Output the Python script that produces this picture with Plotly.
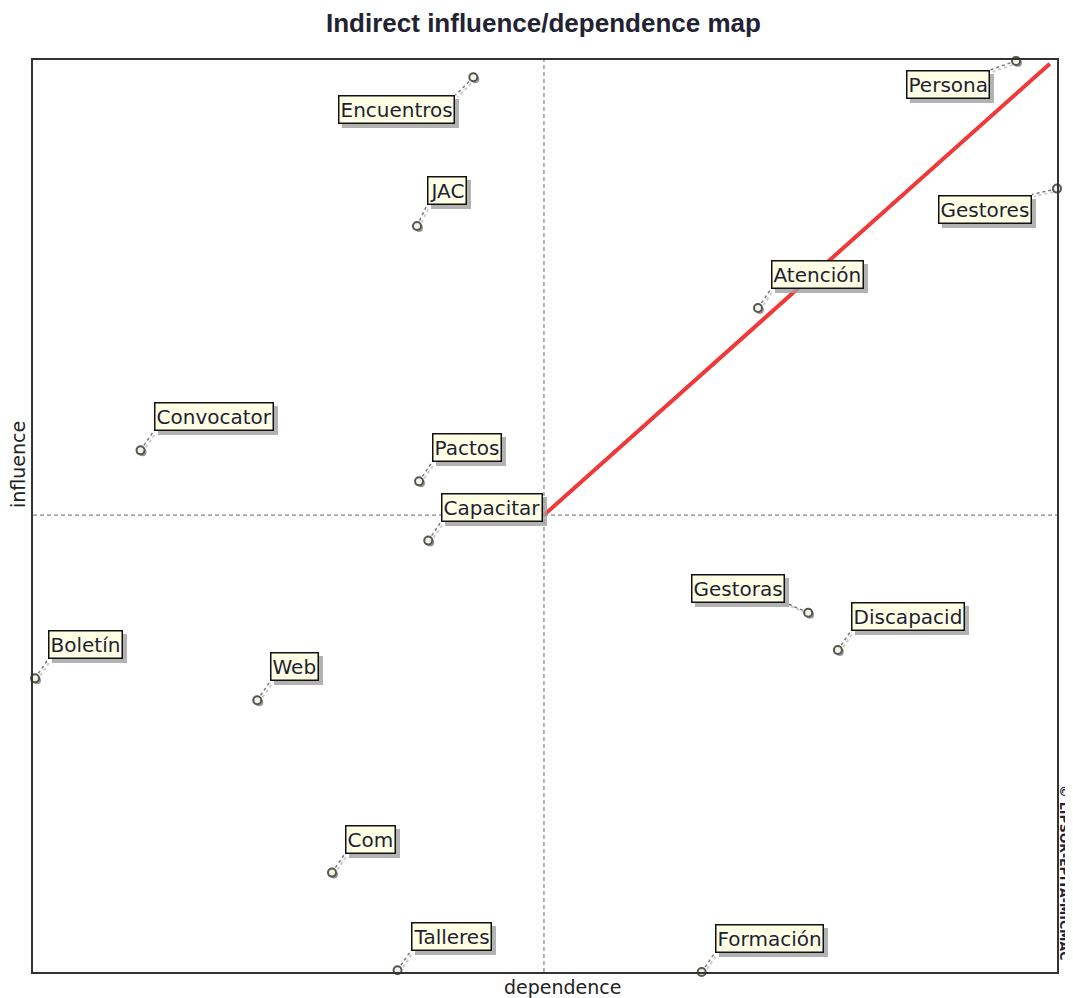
import plotly.graph_objects as go

# ---------------- data ----------------
names = ["Encuentros", "Persona", "JAC", "Gestores", "Atención", "Convocator",
         "Pactos", "Capacitar", "Gestoras", "Discapacid", "Boletín", "Web",
         "Com", "Talleres", "Formación"]
dependence = [43.0, 96.0, 37.5, 100.0, 70.8, 10.5, 37.7, 38.6, 75.7, 78.6,
              0.2, 21.9, 29.2, 35.6, 65.3]
influence = [98.1, 99.9, 81.8, 85.9, 72.8, 57.2, 53.8, 47.3, 39.4, 35.3,
             32.2, 29.8, 10.9, 0.2, 0.0]
mean_dependence = 49.9
mean_influence = 50.1
diag_end = [99.3, 99.6]

# ---------------- layout constants ----------------
OFF = 8  # page body margin
W, H = 1073 - OFF, 998 - OFF
PL, PR, PT, PB = 33, 1057, 60, 972  # plot area in page pixels
L, T = PL - OFF, PT - OFF
R, B = (W + OFF) - PR, (H + OFF) - PB
PW, PH = PR - PL, PB - PT
XR, YR = [0, 100], [0, 100]
pxx = PW / (XR[1] - XR[0])
pxy = PH / (YR[1] - YR[0])


def paper_x(px):
    return (px - PL) / PW


def paper_y(py):
    return (PB - py) / PH


# label placement: (mode, dx, dy) in pixels; dy positive = up
place = {
    "Encuentros": ("tr", -18, -18),
    "Persona": ("tr", -26, -9),
    "Gestores": ("tr", -25, -6),
    "Gestoras": ("br", -23, 10),
    "JAC": ("bl", 10, 21),
}
default_place = ("bl", 13, 19)

FONT = "DejaVu Sans"
LSIZE = 20
fig = go.Figure()

# center lines
fig.add_shape(type="line", x0=mean_dependence, x1=mean_dependence, y0=YR[0], y1=YR[1],
              line=dict(color="#666666", width=1, dash="4px,3px"), layer="below")
fig.add_shape(type="line", x0=XR[0], x1=XR[1], y0=mean_influence, y1=mean_influence,
              line=dict(color="#666666", width=1, dash="4px,3px"), layer="below")

# leader lines
for n, x, y in zip(names, dependence, influence):
    mode, dx, dy = place.get(n, default_place)
    x1 = x + dx / pxx
    y1 = y + dy / pxy
    sx, sy = 2 / pxx, -2 / pxy
    fig.add_trace(go.Scatter(x=[x + sx, x1 + sx], y=[y + sy, y1 + sy], mode="lines",
                             line=dict(color="#cccccc", width=2, dash="dot"),
                             hoverinfo="skip", showlegend=False, cliponaxis=False))
    fig.add_trace(go.Scatter(x=[x, x1], y=[y, y1], mode="lines",
                             line=dict(color="#7a7a7a", width=1.5, dash="dot"),
                             hoverinfo="skip", showlegend=False, cliponaxis=False))

# diagonal
fig.add_trace(go.Scatter(x=[mean_dependence, diag_end[0]], y=[mean_influence, diag_end[1]],
                         mode="lines", line=dict(color="#F03838", width=4),
                         hoverinfo="skip", showlegend=False, cliponaxis=False))

# marker shadows + markers
fig.add_trace(go.Scatter(x=[v + 2 / pxx for v in dependence],
                         y=[v - 2 / pxy for v in influence], mode="markers",
                         marker=dict(size=8, color="#9a9a9a", line=dict(width=0)),
                         hoverinfo="skip", showlegend=False, cliponaxis=False))
fig.add_trace(go.Scatter(x=dependence, y=influence, mode="markers", text=names,
                         marker=dict(size=8, color="#f4f4e4",
                                     line=dict(color="#555555", width=2)),
                         hovertemplate="%{text}<br>dependence %{x}<br>influence %{y}<extra></extra>",
                         showlegend=False, cliponaxis=False))

# labels with shadow
for n, x, y in zip(names, dependence, influence):
    mode, dx, dy = place.get(n, default_place)
    xa = "left" if mode[1] == "l" else "right"
    ya = "bottom" if mode[0] == "b" else "top"
    common = dict(x=x, y=y, xref="x", yref="y", text=n, showarrow=False,
                  xanchor=xa, yanchor=ya, borderpad=1, borderwidth=1.5)
    fig.add_annotation(**common, xshift=dx + 4, yshift=dy - 4,
                       font=dict(family=FONT, size=LSIZE, color="#a0a0a0"),
                       bgcolor="#a0a0a0", bordercolor="#a0a0a0", opacity=0.8)
    fig.add_annotation(**common, xshift=dx, yshift=dy,
                       font=dict(family=FONT, size=LSIZE, color="#1e1e34"),
                       bgcolor="#FFFFE6", bordercolor="#111111")

# axis titles and credit
fig.add_annotation(x=paper_x(562), y=paper_y(987), xref="paper", yref="paper",
                   text="dependence", showarrow=False, xanchor="center", yanchor="middle",
                   font=dict(family=FONT, size=19, color="#222222"))
fig.add_annotation(x=paper_x(18), y=paper_y(465), xref="paper", yref="paper",
                   text="influence", showarrow=False, textangle=-90,
                   xanchor="center", yanchor="middle",
                   font=dict(family=FONT, size=19, color="#222222"))
fig.add_annotation(x=paper_x(1065), y=paper_y(872), xref="paper", yref="paper",
                   text="<b>© LIPSOR-EPITA-MICMAC</b>", showarrow=False, textangle=90,
                   xanchor="center", yanchor="middle",
                   font=dict(family="DejaVu Sans", size=12.5, color="#222233"))
fig.add_annotation(x=paper_x(543), y=paper_y(23), xref="paper", yref="paper",
                   text="<b>Indirect influence/dependence map</b>", showarrow=False,
                   xanchor="center", yanchor="middle",
                   font=dict(family="Liberation Sans", size=26, color="#222233"))

fig.update_layout(
    width=W, height=H,
    margin=dict(l=L, r=R, t=T, b=B),
    paper_bgcolor="white", plot_bgcolor="white",
    xaxis=dict(range=XR, showgrid=False, zeroline=False, showticklabels=False, ticks="",
               showline=True, mirror=True, linecolor="#333333", linewidth=2, fixedrange=True),
    yaxis=dict(range=YR, showgrid=False, zeroline=False, showticklabels=False, ticks="",
               showline=True, mirror=True, linecolor="#333333", linewidth=2, fixedrange=True),
)

fig.write_html("out.html")
